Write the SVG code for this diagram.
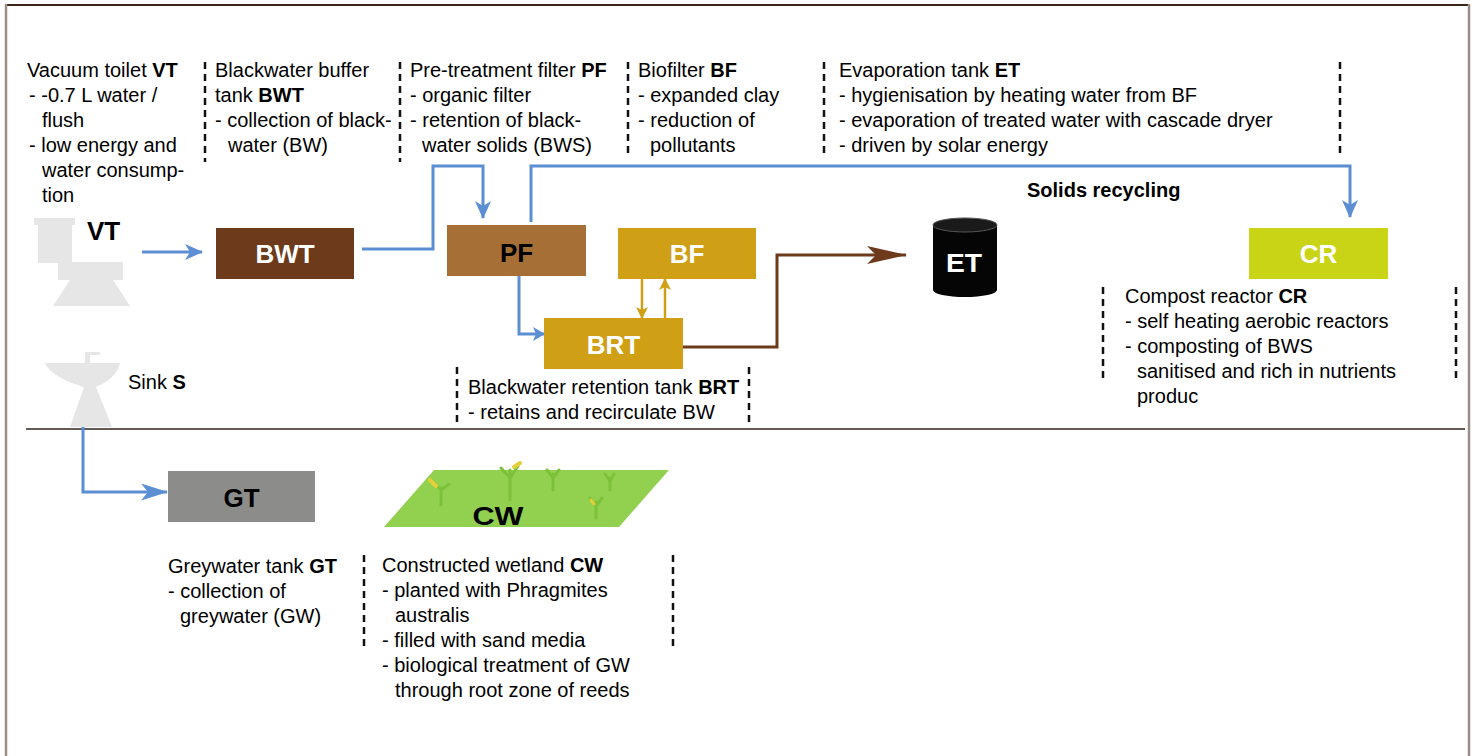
<svg xmlns="http://www.w3.org/2000/svg" width="1478" height="756" viewBox="0 0 1478 756">
  <style>
    text { font-family: "Liberation Sans", Arial, sans-serif; fill: #000; }
    .desc { font-size: 20px; }
    .b { font-weight: bold; }
    .lbl { font-size: 26px; font-weight: bold; text-anchor: middle; }
    .w { fill: #fff; }
    .dash { stroke: #111; stroke-width: 2.5; stroke-dasharray: 7 5; fill: none; }
    .blue { stroke: #5b8ed2; stroke-width: 3; fill: none; }
    .brown { stroke: #6e3a1c; stroke-width: 3; fill: none; }
    .gold { stroke: #cfa016; stroke-width: 2.5; fill: none; }
    .icon { fill: #e6e6e6; }
  </style>
  <defs>
    <marker id="arrBlue" markerUnits="userSpaceOnUse" viewBox="0 0 18 16" refX="17" refY="8" markerWidth="18" markerHeight="16" orient="auto">
      <path d="M0,0 L18,8 L0,16 L5,8 z" fill="#5b8ed2"/>
    </marker>
    <marker id="arrBlueSmall" markerUnits="userSpaceOnUse" viewBox="0 0 12 14" refX="11" refY="7" markerWidth="12" markerHeight="14" orient="auto">
      <path d="M0,0 L12,7 L0,14 L3,7 z" fill="#5b8ed2"/>
    </marker>
    <marker id="arrBlueLong" markerUnits="userSpaceOnUse" viewBox="0 0 27 17" refX="26" refY="8.5" markerWidth="27" markerHeight="17" orient="auto">
      <path d="M0,0 L27,8.5 L0,17 L7,8.5 z" fill="#5b8ed2"/>
    </marker>
    <marker id="arrBrown" markerUnits="userSpaceOnUse" viewBox="0 0 40 18" refX="39" refY="9" markerWidth="40" markerHeight="18" orient="auto">
      <path d="M0,0 L40,9 L0,18 L9,9 z" fill="#6e3a1c"/>
    </marker>
    <marker id="arrGold" markerUnits="userSpaceOnUse" viewBox="0 0 12 12" refX="11" refY="6" markerWidth="12" markerHeight="12" orient="auto">
      <path d="M0,0 L12,6 L0,12 L3,6 z" fill="#cfa016"/>
    </marker>
  </defs>

  <rect width="1478" height="756" fill="#fff"/>

  <!-- frame -->
  <line x1="5" y1="5" x2="1470" y2="5" stroke="#3b2418" stroke-width="2"/>
  <line x1="6" y1="4" x2="6" y2="756" stroke="#9b8e88" stroke-width="2.5"/>
  <line x1="1469" y1="4" x2="1469" y2="756" stroke="#9b8e88" stroke-width="2.5"/>

  <!-- separator between blackwater and greywater lines -->
  <line x1="26" y1="429" x2="1465" y2="429" stroke="#2e241e" stroke-width="1.5"/>

  <!-- column separators, top row -->
  <g id="top-separators">
    <line class="dash" x1="205" y1="62" x2="205" y2="162"/>
    <line class="dash" x1="400" y1="62" x2="400" y2="162"/>
    <line class="dash" x1="628" y1="62" x2="628" y2="155"/>
    <line class="dash" x1="824" y1="62" x2="824" y2="155"/>
    <line class="dash" x1="1340" y1="62" x2="1340" y2="155"/>
  </g>

  <!-- top row descriptions -->
  <g id="desc-vt" class="desc">
    <text x="27" y="77">Vacuum toilet <tspan class="b">VT</tspan></text>
    <text x="29" y="102">- -0.7 L water /</text>
    <text x="42" y="127">flush</text>
    <text x="29" y="152">- low energy and</text>
    <text x="42" y="177">water consump-</text>
    <text x="42" y="202">tion</text>
  </g>
  <g id="desc-bwt" class="desc">
    <text x="215" y="77">Blackwater buffer</text>
    <text x="215" y="102">tank <tspan class="b">BWT</tspan></text>
    <text x="215" y="127">- collection of black-</text>
    <text x="228" y="152">water (BW)</text>
  </g>
  <g id="desc-pf" class="desc">
    <text x="410" y="77">Pre-treatment filter <tspan class="b">PF</tspan></text>
    <text x="410" y="102">- organic filter</text>
    <text x="410" y="127">- retention of black-</text>
    <text x="422" y="152">water solids (BWS)</text>
  </g>
  <g id="desc-bf" class="desc">
    <text x="638" y="77">Biofilter <tspan class="b">BF</tspan></text>
    <text x="638" y="102">- expanded clay</text>
    <text x="638" y="127">- reduction of</text>
    <text x="650" y="152">pollutants</text>
  </g>
  <g id="desc-et" class="desc">
    <text x="839" y="77">Evaporation tank <tspan class="b">ET</tspan></text>
    <text x="839" y="102">- hygienisation by heating water from BF</text>
    <text x="839" y="127">- evaporation of treated water with cascade dryer</text>
    <text x="839" y="152">- driven by solar energy</text>
  </g>

  <text x="1027" y="197" font-size="20" font-weight="bold">Solids recycling</text>

  <!-- connectors -->
  <g id="connectors">
    <line class="blue" x1="142" y1="252" x2="202" y2="252" marker-end="url(#arrBlue)"/>
    <path class="blue" d="M362,249 H433 V166 H483 V218" marker-end="url(#arrBlue)"/>
    <path class="blue" d="M531,222 V166 H1350 V217" marker-end="url(#arrBlue)"/>
    <path class="blue" d="M519,276 V334 H544" marker-end="url(#arrBlueSmall)"/>
    <line class="gold" x1="642" y1="279" x2="642" y2="318" marker-end="url(#arrGold)"/>
    <line class="gold" x1="665" y1="318" x2="665" y2="279" marker-end="url(#arrGold)"/>
    <path class="brown" d="M683,347 H777 V255 H906" marker-end="url(#arrBrown)"/>
    <path class="blue" d="M83,426 V492 H167" marker-end="url(#arrBlueLong)"/>
  </g>

  <!-- vacuum toilet -->
  <g id="node-vt">
    <path class="icon" d="M34,218 H75 V225 H72 V262 H123 V280 H113 L130,306 H53 L70,280 H58 V263 H38 V225 H34 Z"/>
    <text x="87" y="240" font-size="26" font-weight="bold">VT</text>
  </g>

  <!-- sink -->
  <g id="node-s">
    <path class="icon" d="M45,363 H120 C118,375 106,383 96,387 L112,427 H70 L84,387 C70,383 50,375 45,363 Z"/>
    <path class="icon" d="M85,363 V352 H100 V355 H90 V363 Z"/>
    <text class="desc" x="128" y="389">Sink <tspan class="b">S</tspan></text>
  </g>

  <g id="node-bwt">
    <rect x="216" y="228" width="138" height="51" fill="#6e3a1c"/>
    <text class="lbl w" x="285" y="263">BWT</text>
  </g>

  <g id="node-pf">
    <rect x="447" y="225" width="139" height="51" fill="#a56f35"/>
    <text class="lbl" x="516.5" y="262">PF</text>
  </g>

  <g id="node-bf">
    <rect x="618" y="228" width="138" height="51" fill="#cfa016"/>
    <text class="lbl w" x="687" y="263">BF</text>
  </g>

  <g id="node-brt">
    <rect x="544" y="318" width="139" height="51" fill="#cfa016"/>
    <text class="lbl w" x="613.5" y="354">BRT</text>
    <line class="dash" x1="457" y1="367" x2="457" y2="425"/>
    <line class="dash" x1="749" y1="367" x2="749" y2="425"/>
    <text class="desc" x="468" y="394">Blackwater retention tank <tspan class="b">BRT</tspan></text>
    <text class="desc" x="468" y="419">- retains and recirculate BW</text>
  </g>

  <g id="node-et">
    <path d="M933,225 V290 A32,7 0 0 0 997,290 V225 Z" fill="#050505"/>
    <ellipse cx="965" cy="225" rx="32" ry="7" fill="#1a1a1a" stroke="#555" stroke-width="1"/>
    <text x="964" y="272" font-size="25" font-weight="bold" text-anchor="middle" class="w" textLength="36" lengthAdjust="spacingAndGlyphs">ET</text>
  </g>

  <g id="node-cr">
    <rect x="1249" y="228" width="139" height="51" fill="#c9d417"/>
    <text class="lbl w" x="1318.5" y="263">CR</text>
    <line class="dash" x1="1103" y1="287" x2="1103" y2="378"/>
    <line class="dash" x1="1456" y1="287" x2="1456" y2="378"/>
    <text class="desc" x="1125" y="303">Compost reactor <tspan class="b">CR</tspan></text>
    <text class="desc" x="1125" y="328">- self heating aerobic reactors</text>
    <text class="desc" x="1125" y="353">- composting of BWS</text>
    <text class="desc" x="1137" y="378">sanitised and rich in nutrients</text>
    <text class="desc" x="1137" y="403">produc</text>
  </g>

  <g id="node-gt">
    <rect x="168" y="471" width="147" height="51" fill="#8c8d8a"/>
    <text class="lbl" x="241.5" y="507">GT</text>
    <text class="desc" x="168" y="573">Greywater tank <tspan class="b">GT</tspan></text>
    <text class="desc" x="168" y="598">- collection of</text>
    <text class="desc" x="180" y="623">greywater (GW)</text>
  </g>

  <g id="node-cw">
    <polygon points="434,470 669,470 619,527 384,527" fill="#92d050"/>
    <!-- reed sprouts -->
    <g stroke-linecap="round" fill="none">
      <path d="M441,505 V488 M441,490 L432,481 M441,490 L449,484" stroke="#7cc238" stroke-width="3"/>
      <path d="M430,480 L436,486" stroke="#e2cf3a" stroke-width="4"/>
      <path d="M510,500 V470 M510,478 L501,468 M510,478 L518,466" stroke="#7cc238" stroke-width="3"/>
      <path d="M514,467 L520,463" stroke="#e2cf3a" stroke-width="4"/>
      <path d="M553,490 V474 M553,478 L547,470 M553,478 L559,470" stroke="#7cc238" stroke-width="3"/>
      <path d="M610,490 V478 M610,481 L605,474 M610,481 L614,474" stroke="#7cc238" stroke-width="3"/>
      <path d="M596,518 V502 M596,506 L590,498 M596,506 L602,498" stroke="#7cc238" stroke-width="3"/>
      <path d="M591,500 L594,504" stroke="#e2cf3a" stroke-width="3"/>
    </g>
    <text x="498" y="525" font-size="25" font-weight="bold" text-anchor="middle" textLength="51" lengthAdjust="spacingAndGlyphs">CW</text>
    <line class="dash" x1="364" y1="555" x2="364" y2="647"/>
    <line class="dash" x1="673" y1="555" x2="673" y2="647"/>
    <text class="desc" x="382" y="572">Constructed wetland <tspan class="b">CW</tspan></text>
    <text class="desc" x="382" y="597">- planted with Phragmites</text>
    <text class="desc" x="395" y="622">australis</text>
    <text class="desc" x="382" y="647">- filled with sand media</text>
    <text class="desc" x="382" y="672">- biological treatment of GW</text>
    <text class="desc" x="395" y="697">through root zone of reeds</text>
  </g>
</svg>
